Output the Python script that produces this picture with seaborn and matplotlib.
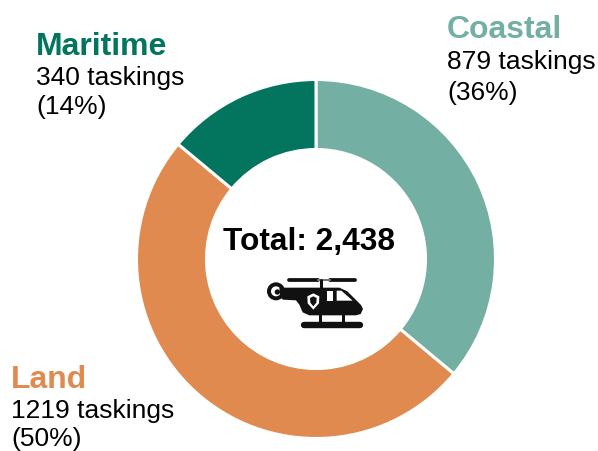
import matplotlib
matplotlib.use("Agg")
import matplotlib.pyplot as plt
import seaborn as sns
from matplotlib.patches import Polygon, Circle, Rectangle

categories = ["Coastal", "Land", "Maritime"]
taskings = [879, 1219, 340]
shares = ["(36%)", "(50%)", "(14%)"]
total_label = "Total: 2,438"
palette = sns.color_palette(["#73AFA3", "#E08A4F", "#03755E"])

W, H = 598, 452
sns.set_theme(style="white")
plt.rcParams["font.family"] = ["Liberation Sans", "DejaVu Sans"]

fig = plt.figure(figsize=(W / 100, H / 100), dpi=100)
ax = fig.add_axes([0, 0, 1, 1])

# Doughnut, clockwise from twelve o'clock (the y axis is inverted, so angles run clockwise)
ax.pie(taskings, colors=palette, startangle=-90, counterclock=True,
       center=(316, 260), radius=179.5, frame=True,
       wedgeprops=dict(width=70, edgecolor="white", linewidth=2.2))
ax.set_xlim(0, W)
ax.set_ylim(H, 0)
ax.set_aspect("equal")
ax.axis("off")

# Callouts: bold category name, count, share
anchors = {"Coastal": (447, 38, 69, 100), "Land": (11, 388, 418, 446), "Maritime": (36, 55, 85, 114)}
for name, n, share, colour in zip(categories, taskings, shares, palette):
    x, y0, y1, y2 = anchors[name]
    ax.text(x, y0, name, color=colour, fontsize=23, fontweight="bold", va="baseline", ha="left")
    ax.text(x, y1, f"{n} taskings", color="black", fontsize=19, va="baseline", ha="left")
    ax.text(x, y2, share, color="black", fontsize=19, va="baseline", ha="left")

ax.text(308.5, 250, total_label, color="black", fontsize=22.8, fontweight="bold", va="baseline", ha="center")


# Helicopter pictogram, laid out on its own small grid
def gx(v):
    return 250 + v / 3


def gy(v):
    return 260 + v / 3


def poly(pts, colour):
    ax.add_patch(Polygon([(gx(a), gy(b)) for a, b in pts], closed=True, fc=colour, ec="none"))


def bar(x0, y0, x1, y1, px, colour="#111111"):
    ax.plot([gx(x0), gx(x1)], [gy(y0), gy(y1)], color=colour, lw=px * 0.72, solid_capstyle="round")


ink = "#111111"
bar(118, 62, 205, 62, 3.8)
bar(240, 62, 314, 62, 3.8)
bar(205, 62, 240, 62, 2.0, "#777777")
bar(214, 62, 214, 92, 3.0)
ax.add_patch(Circle((gx(78), gy(97)), 27 / 3, fc=ink, ec="none"))
ax.add_patch(Circle((gx(78), gy(97)), 15 / 3, fc="white", ec="none"))
ax.add_patch(Circle((gx(82), gy(99)), 8 / 3, fc=ink, ec="none"))
poly([(88, 86), (268, 86), (292, 97), (333, 138), (339, 150), (332, 165), (318, 169),
      (178, 169), (158, 160), (148, 137), (138, 124), (98, 122), (90, 108)], ink)
ax.add_patch(Rectangle((gx(230), gy(95)), 20 / 3, 30 / 3, fc="white", ec="none"))
poly([(260, 95), (274, 95), (308, 125), (260, 125)], "white")
shield = [(190, 103), (208, 112), (207, 133), (190, 152), (173, 133), (172, 112)]
poly(shield, "white")
poly([(190, 112), (200, 117), (199, 131), (190, 142), (181, 131), (180, 117)], ink)
bar(210, 165, 210, 192, 3.0)
bar(278, 165, 278, 192, 3.0)
bar(163, 197, 331, 197, 6.4)

fig.savefig("out.png", dpi=100, facecolor="white")
